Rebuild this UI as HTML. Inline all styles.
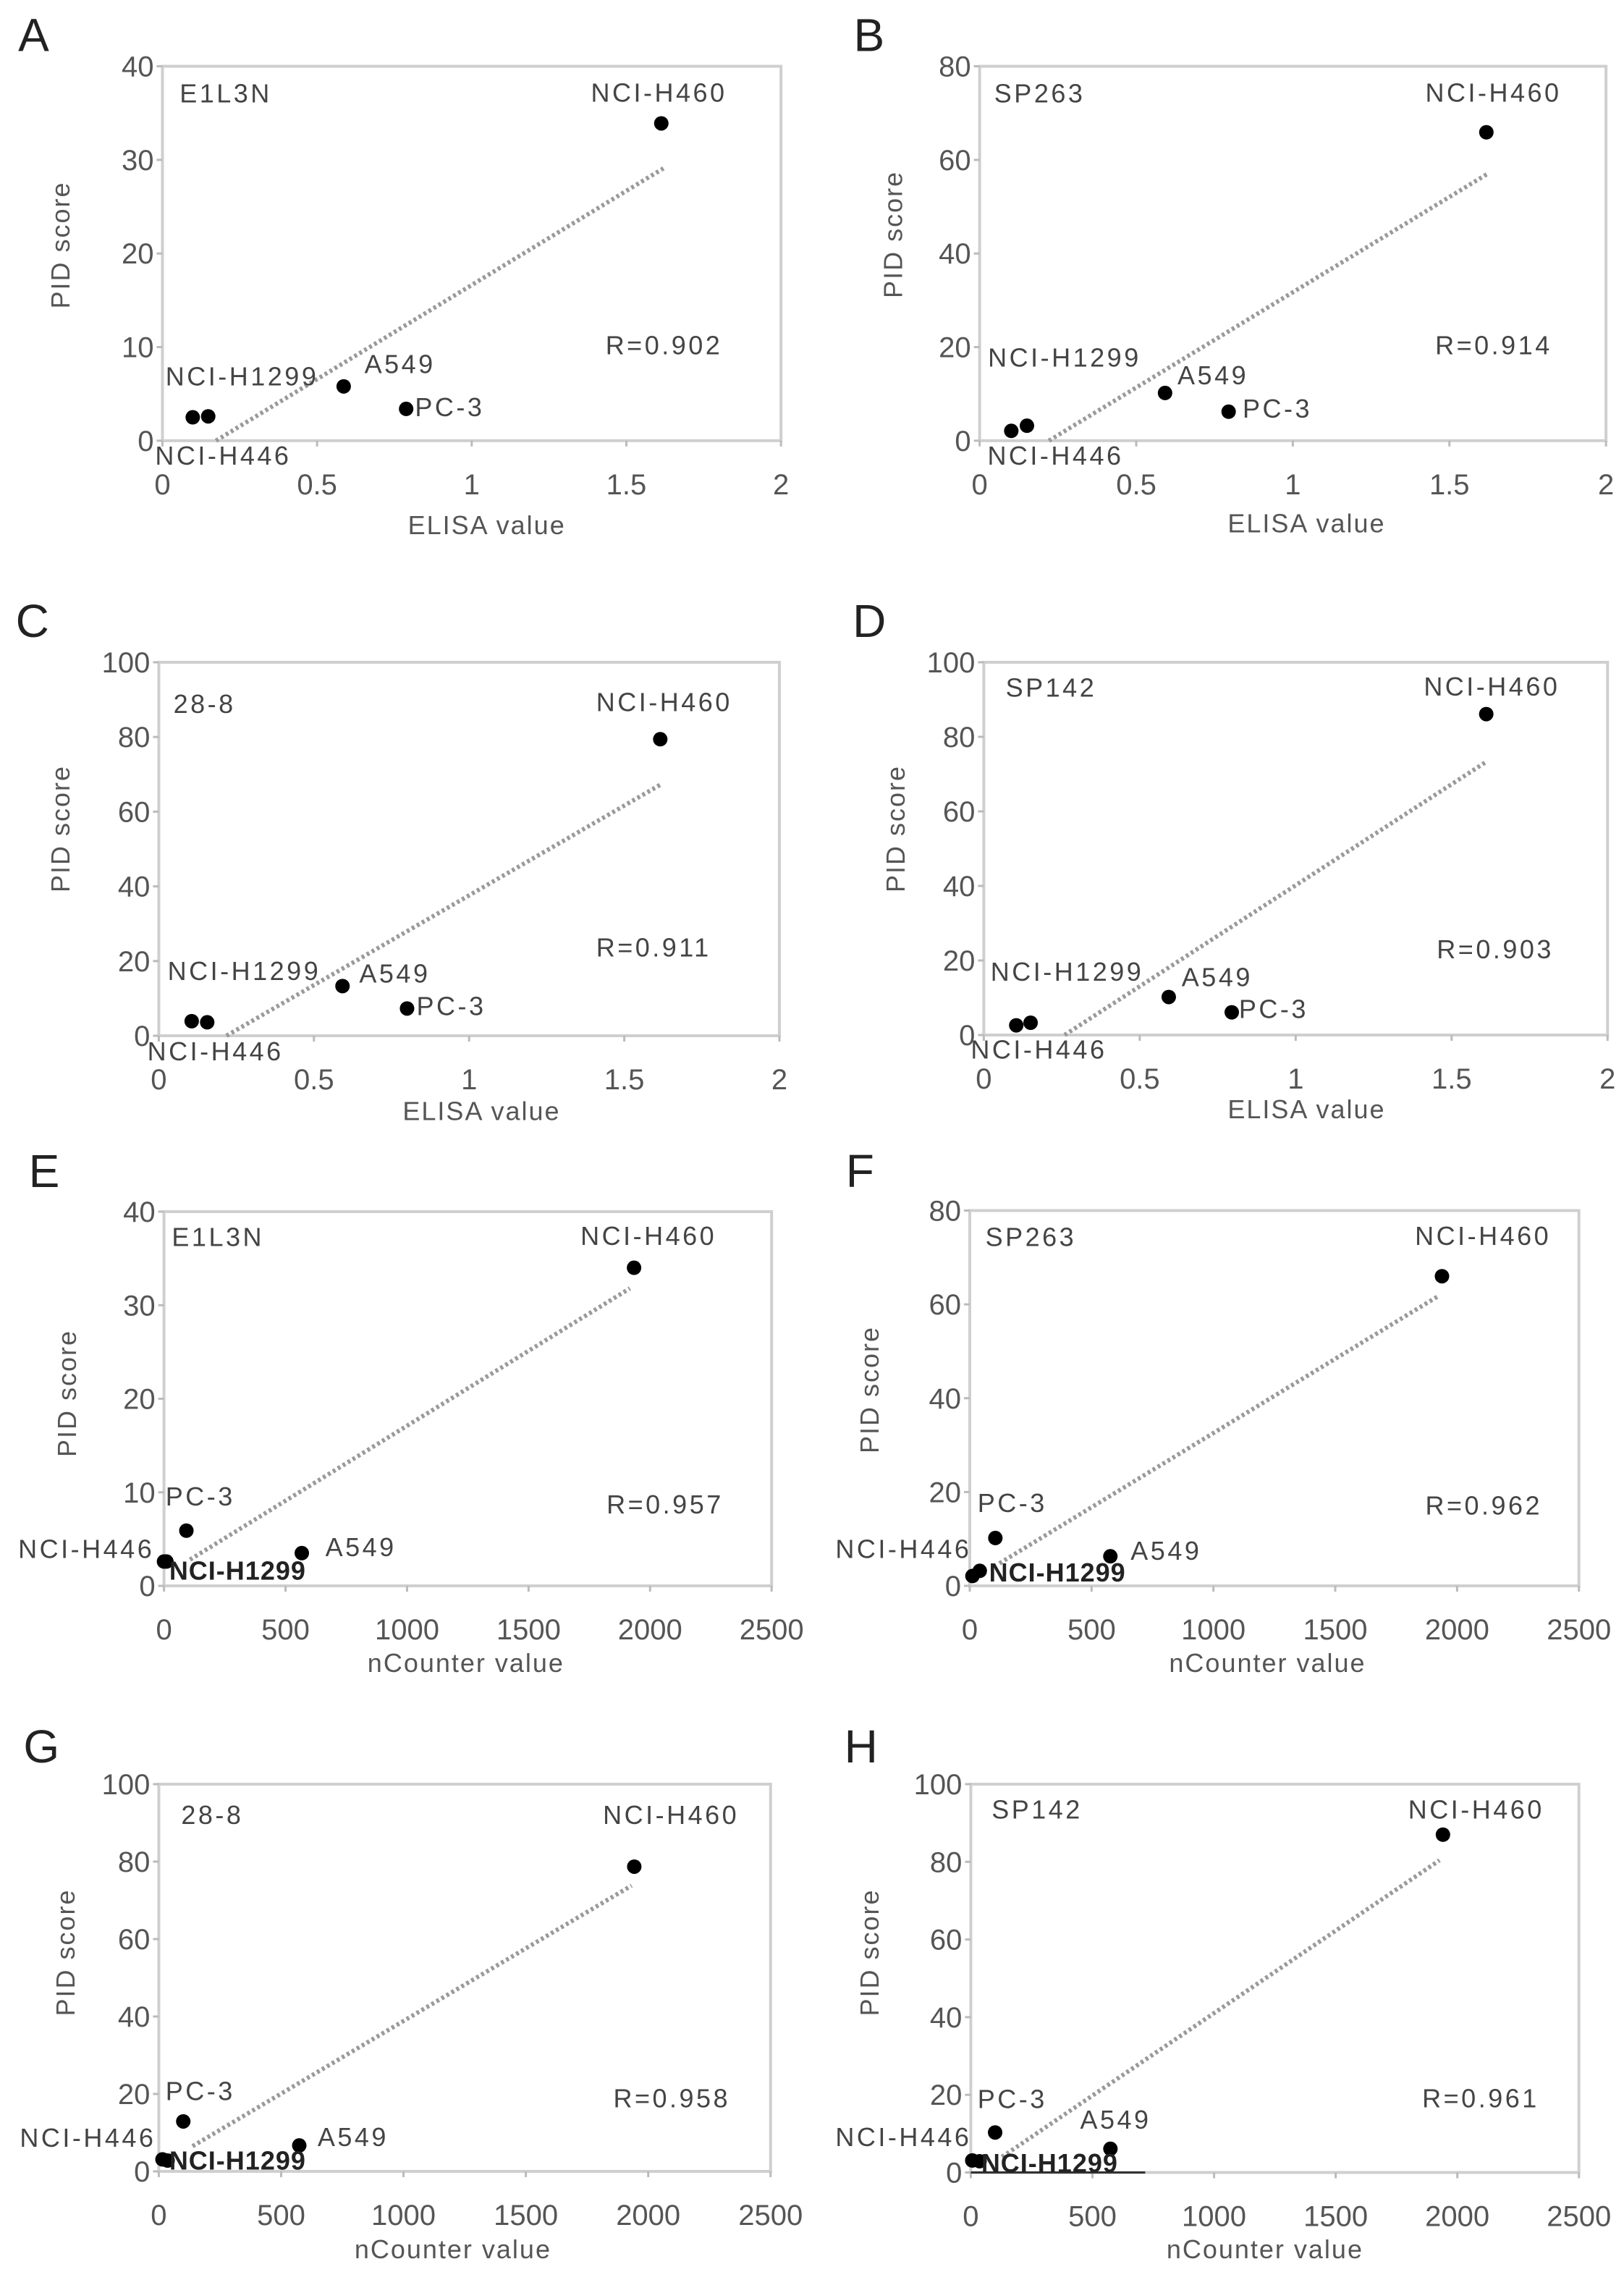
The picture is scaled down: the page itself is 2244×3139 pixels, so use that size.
<!DOCTYPE html>
<html><head><meta charset="utf-8"><style>
html,body{margin:0;padding:0;background:#fff;}
svg{display:block;}
text{font-family:"Liberation Sans",Arial,sans-serif;}
</style></head><body>
<svg id="fig" width="2244" height="3139" viewBox="0 0 2244 3139" xmlns="http://www.w3.org/2000/svg"></svg>
<script>
const cellLines = ["NCI-H446","NCI-H1299","A549","PC-3","NCI-H460"];
const aX = [0.098,0.148,0.586,0.788,1.613];
const aY = [2.5,2.6,5.8,3.4,33.9];
const aTrendX = [0.173,1.62];
const aTrendY = [0,29.1];
const bX = [0.101,0.151,0.592,0.795,1.618];
const bY = [2.1,3.2,10.2,6.2,65.9];
const bTrendX = [0.221,1.626];
const bTrendY = [0,57.2];
const cX = [0.106,0.156,0.592,0.8,1.616];
const cY = [3.9,3.6,13.3,7.3,79.4];
const cTrendX = [0.218,1.616];
const cTrendY = [0,67.2];
const dX = [0.104,0.150,0.593,0.795,1.611];
const dY = [2.6,3.3,10.2,6.1,86.1];
const dTrendX = [0.259,1.611];
const dTrendY = [0,73.3];
const eX = [0,10,567,92,1934];
const eY = [2.6,2.6,3.5,5.9,34.0];
const eTrendX = [107,1917];
const eTrendY = [2.8,31.8];
const fX = [11,41,577,105,1938];
const fY = [2.1,3.2,6.3,10.2,66];
const fTrendX = [122,1927];
const fTrendY = [4.8,61.9];
const gX = [15,36,574,100,1943];
const gY = [3.1,2.8,6.7,12.9,78.7];
const gTrendX = [138,1932];
const gTrendY = [6.5,73.8];
const hX = [6,36,574,100,1941];
const hY = [3.1,2.9,6.1,10.3,87];
const hTrendX = [128,1927];
const hTrendY = [4,80.4];
const elisaTicks = [0,0.5,1,1.5,2];
const elisaTickLabels = ["0","0.5","1","1.5","2"];
const ncTicks = [0,500,1000,1500,2000,2500];
const ncTickLabels = ["0","500","1000","1500","2000","2500"];
const rValues = ["R=0.902","R=0.914","R=0.911","R=0.903","R=0.957","R=0.962","R=0.958","R=0.961"];
const antibodies = ["E1L3N","SP263","28-8","SP142","E1L3N","SP263","28-8","SP142"];

const NS="http://www.w3.org/2000/svg";
const svg=document.getElementById('fig');
function el(tag,attrs,parent,txt){const e=document.createElementNS(NS,tag);for(const k in attrs)e.setAttribute(k,attrs[k]);if(txt!==undefined)e.textContent=txt;(parent||svg).appendChild(e);return e;}

const panels=[
 {id:"a",L:"A",cx:0,cy:0,sy:2.053,x0:312,x1:1500,y0:1250,y1:188,xmax:2,ymax:40,ystep:10,xs:aX,ys:aY,tx:aTrendX,ty:aTrendY,nc:false,
  lab:{ab:[345,290],H460:[1135,288],R:[1163,1005],H1299:[318,1093],A549:[700,1058],PC3:[797,1180],H446:[298,1318],letter:[35,145],xt:[935,1515],yt:[120,695]}},
 {id:"b",L:"B",cx:1122,cy:0,sy:2.053,x0:322,x1:1525,y0:1250,y1:188,xmax:2,ymax:80,ystep:20,xs:bX,ys:bY,tx:bTrendX,ty:bTrendY,nc:false,
  lab:{ab:[350,290],H460:[1178,288],R:[1197,1005],H1299:[338,1040],A549:[702,1090],PC3:[827,1185],H446:[337,1318],letter:[80,145],xt:[950,1510],yt:[160,665]}},
 {id:"c",L:"C",cx:0,cy:800,sy:2.0,x0:305,x1:1497,y0:1262,y1:230,xmax:2,ymax:100,ystep:20,xs:cX,ys:cY,tx:cTrendX,ty:cTrendY,nc:false,
  lab:{ab:[333,370],H460:[1145,365],R:[1145,1043],H1299:[322,1108],A549:[690,1115],PC3:[800,1205],H446:[283,1330],letter:[30,160],xt:[925,1495],yt:[120,690]}},
 {id:"d",L:"D",cx:1122,cy:800,sy:2.0,x0:330,x1:1528,y0:1260,y1:230,xmax:2,ymax:100,ystep:20,xs:dX,ys:dY,tx:dTrendX,ty:dTrendY,nc:false,
  lab:{ab:[372,325],H460:[1175,322],R:[1200,1048],H1299:[343,1110],A549:[710,1125],PC3:[820,1213],H446:[305,1325],letter:[78,160],xt:[950,1490],yt:[165,690]}},
 {id:"e",L:"E",cx:0,cy:1580,sy:2.0,x0:315,x1:1482,y0:1222,y1:188,xmax:2500,ymax:40,ystep:10,xs:eX,ys:eY,tx:eTrendX,ty:eTrendY,nc:true,
  lab:{ab:[330,283],H460:[1115,280],R:[1165,1022],PC3:[318,1000],H446:[35,1145],H1299:[325,1205],A549:[625,1140],letter:[55,120],xt:[895,1460],yt:[133,690]}},
 {id:"f",L:"F",cx:1122,cy:1580,sy:2.0,x0:303,x1:1473,y0:1222,y1:185,xmax:2500,ymax:80,ystep:20,xs:fX,ys:fY,tx:fTrendX,ty:fTrendY,nc:true,
  lab:{ab:[333,283],H460:[1158,280],R:[1178,1025],PC3:[318,1018],H446:[45,1145],H1299:[340,1210],A549:[612,1150],letter:[65,120],xt:[875,1460],yt:[115,680]}},
 {id:"g",L:"G",cx:0,cy:2360,sy:2.0,x0:305,x1:1480,y0:1280,y1:210,xmax:2500,ymax:100,ystep:20,xs:gX,ys:gY,tx:gTrendX,ty:gTrendY,nc:true,
  lab:{ab:[348,320],H460:[1158,320],R:[1178,1103],PC3:[318,1083],H446:[38,1212],H1299:[325,1275],A549:[610,1210],letter:[45,150],xt:[870,1520],yt:[130,675]}},
 {id:"h",L:"H",cx:1122,cy:2360,sy:2.0,x0:305,x1:1473,y0:1283,y1:210,xmax:2500,ymax:100,ystep:20,xs:hX,ys:hY,tx:hTrendX,ty:hTrendY,nc:true,
  lab:{ab:[345,305],H460:[1145,305],R:[1172,1103],PC3:[318,1105],H446:[45,1210],A549:[515,1162],H1299:[325,1282],letter:[62,150],xt:[870,1520],yt:[115,675]}}
];
const SX=1.39;
const FS=36;
const TFS=40;
panels.forEach((p,pi)=>{
  const fx=z=>p.cx+z/SX, fy=z=>p.cy+z/p.sy;
  const X0=fx(p.x0),X1=fx(p.x1),Y0=fy(p.y0),Y1=fy(p.y1);
  const xScale=v=>X0+(X1-X0)*v/p.xmax;
  const yScale=v=>Y0-(Y0-Y1)*v/p.ymax;
  const g=el('g',{});
  
  
  const lt=el('text',{x:fx(p.lab.letter[0]),y:fy(p.lab.letter[1]),'font-size':64,fill:'#222'},g,p.L);
  
  
  const fr=el('rect',{x:X0,y:Y1,width:X1-X0,height:Y0-Y1,fill:'none',stroke:'#cfcfcf','stroke-width':4},g);
  
  
  for(let v=0;v<=p.ymax;v+=p.ystep){
    const y=yScale(v);
    el('line',{x1:X0-8,x2:X0,y1:y,y2:y,stroke:'#bbb','stroke-width':3},g);
    const t=el('text',{x:X0-12,y:y+14,'font-size':TFS,'text-anchor':'end',fill:'#555'},g,String(v));
    
    
  }
  const ticks=p.nc?ncTicks:elisaTicks, tl=p.nc?ncTickLabels:elisaTickLabels;
  ticks.forEach((v,i)=>{
    const x=xScale(v);
    el('line',{x1:x,x2:x,y1:Y0,y2:Y0+8,stroke:'#bbb','stroke-width':3},g);
    const t=el('text',{x:x,y:Y0+74,'font-size':TFS,'text-anchor':'middle',fill:'#555'},g,tl[i]);
    
    
  });
  const xt=el('text',{x:fx(p.lab.xt[0]),y:fy(p.lab.xt[1]),'font-size':FS,'text-anchor':'middle',fill:'#555','letter-spacing':2},g,p.nc?'nCounter value':'ELISA value');
  
  
  const ytx=fx(p.lab.yt[0]),yty=fy(p.lab.yt[1]);
  const yt=el('text',{x:ytx,y:yty,'font-size':FS,'text-anchor':'middle','dominant-baseline':'middle',fill:'#555','letter-spacing':2,transform:`rotate(-90 ${ytx} ${yty})`},g,'PID score');
  
  
  const tr=el('line',{x1:xScale(p.tx[0]),y1:yScale(p.ty[0]),x2:xScale(p.tx[1]),y2:yScale(p.ty[1]),stroke:'#9a9a9a','stroke-width':6,'stroke-dasharray':'4 4'},g);
  
  
  if(p.id==='h'){
    el('line',{x1:X0,x2:fx(640),y1:Y0,y2:Y0,stroke:'#333','stroke-width':3},g);
  }
  p.xs.forEach((v,i)=>{
    const c=el('circle',{cx:xScale(v),cy:yScale(p.ys[i]),r:10,fill:'#000'},g);
    
    
  });
  const lab=p.lab;
  const add=(key,txt,bold)=>{
    const t=el('text',{x:fx(lab[key][0]),y:fy(lab[key][1]),'font-size':FS,fill:bold?'#222':'#444','font-weight':bold?'bold':'normal','letter-spacing':bold?1:3.5},g,txt);
    
    
  };
  add('ab',antibodies[pi]);
  add('H460','NCI-H460');
  add('R',rValues[pi]);
  add('H1299','NCI-H1299',p.nc);
  add('A549','A549');
  add('PC3','PC-3');
  add('H446','NCI-H446');
});
</script>
</body></html>
